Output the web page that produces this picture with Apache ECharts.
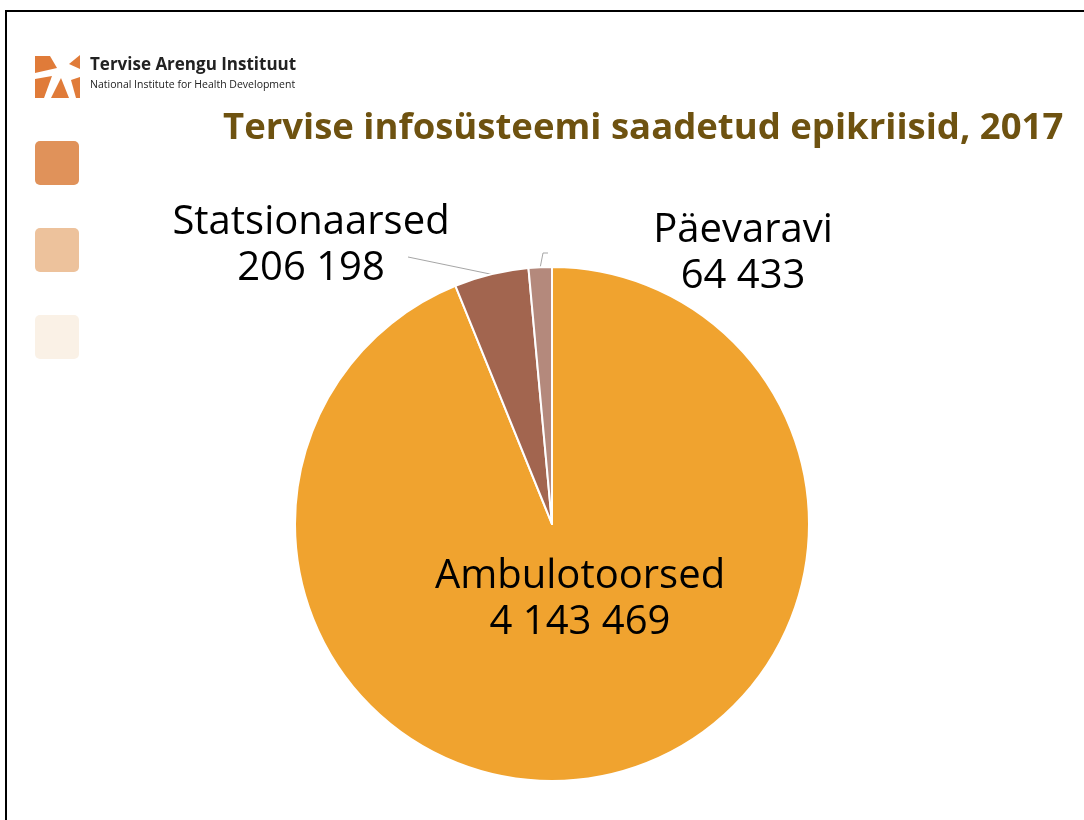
<!DOCTYPE html>
<html>
<head>
<meta charset="utf-8">
<script src="https://cdn.jsdelivr.net/npm/echarts@6/dist/echarts.min.js"></script>
<style>
  html, body { margin: 0; padding: 0; background: #fff; }
  #main { width: 1084px; height: 820px; }
</style>
</head>
<body>
<div id="main"></div>
<script>
// epikriisid 2017
var categories = ['Ambulotoorsed', 'Statsionaarsed', 'Päevaravi'];
var values = [4143469, 206198, 64433];
var sliceColors = ['#F0A32F', '#A2654F', '#B4897C'];

// where each label sits on the slide
var labelPos = [[580, 600], [311, 246], [743, 254]];

var chart = echarts.init(document.getElementById('main'));

function fmt(n) {
    return String(n).replace(/\B(?=(\d{3})+(?!\d))/g, ' ');
}

var data = categories.map(function (c, i) {
    return {
        name: c,
        value: values[i],
        itemStyle: { color: sliceColors[i] },
        label: { position: i === 0 ? 'inside' : 'outside' },
        labelLine: { show: i !== 0 }
    };
});

var option = {
    animation: false,
    backgroundColor: '#fff',
    title: {
        text: 'Tervise infosüsteemi saadetud epikriisid, 2017',
        left: 218,
        top: 105,
        textStyle: {
            fontFamily: 'Open Sans',
            fontWeight: 'bold',
            fontSize: 36.5,
            color: '#6E5210'
        }
    },
    graphic: [
        // slide frame
        { type: 'line', shape: { x1: 5, y1: 11, x2: 1084, y2: 11 }, style: { stroke: '#000', lineWidth: 2 } },
        { type: 'line', shape: { x1: 6, y1: 10, x2: 6, y2: 820 }, style: { stroke: '#000', lineWidth: 2 } },
        // logo
        { type: 'polygon', shape: { points: [[35, 56], [50, 56], [57, 68], [35, 73]] }, style: { fill: '#E07B39' } },
        { type: 'polygon', shape: { points: [[69, 64], [80, 55], [80, 69]] }, style: { fill: '#E07B39' } },
        { type: 'polygon', shape: { points: [[35, 79], [52, 76], [44, 98], [35, 98]] }, style: { fill: '#E07B39' } },
        { type: 'polygon', shape: { points: [[51, 98], [61, 78], [69, 98]] }, style: { fill: '#E07B39' } },
        { type: 'polygon', shape: { points: [[71, 80], [80, 77], [80, 98], [76, 98]] }, style: { fill: '#E07B39' } },
        { type: 'text', left: 90, top: 57, style: { text: 'Tervise Arengu Instituut', font: 'bold 17px "Open Sans"', fill: '#222' } },
        { type: 'text', left: 90, top: 80, style: { text: 'National Institute for Health Development', font: '10.5px "Open Sans"', fill: '#222' } },
        // decorative squares
        { type: 'rect', shape: { x: 35, y: 141, width: 44, height: 44, r: 5 }, style: { fill: '#E0925A' } },
        { type: 'rect', shape: { x: 35, y: 228, width: 44, height: 44, r: 5 }, style: { fill: '#EDC29C' } },
        { type: 'rect', shape: { x: 35, y: 315, width: 44, height: 44, r: 5 }, style: { fill: '#FAF1E6' } }
    ],
    series: [{
        type: 'pie',
        center: [552, 524],
        radius: 257,
        startAngle: 90,
        clockwise: true,
        itemStyle: { borderColor: '#fff', borderWidth: 2 },
        label: {
            formatter: function (p) { return p.name + '\n' + fmt(p.value); },
            fontFamily: 'Open Sans',
            fontSize: 40,
            lineHeight: 46,
            color: '#000',
            align: 'center'
        },
        labelLine: {
            lineStyle: { color: '#A6A6A6', width: 1 },
            length: 10,
            length2: 10
        },
        labelLayout: function (p) {
            var pos = labelPos[p.dataIndex];
            var out = { x: pos[0], y: pos[1], align: 'center', verticalAlign: 'middle' };
            var pts = p.labelLinePoints;
            if (pts && p.dataIndex === 1) {
                out.labelLinePoints = [pts[0], [408, 257], [408, 257]];
            } else if (pts && p.dataIndex === 2) {
                out.labelLinePoints = [pts[0], [543, 253], [548, 253]];
            }
            return out;
        },
        data: data
    }]
};

chart.setOption(option);
</script>
</body>
</html>
